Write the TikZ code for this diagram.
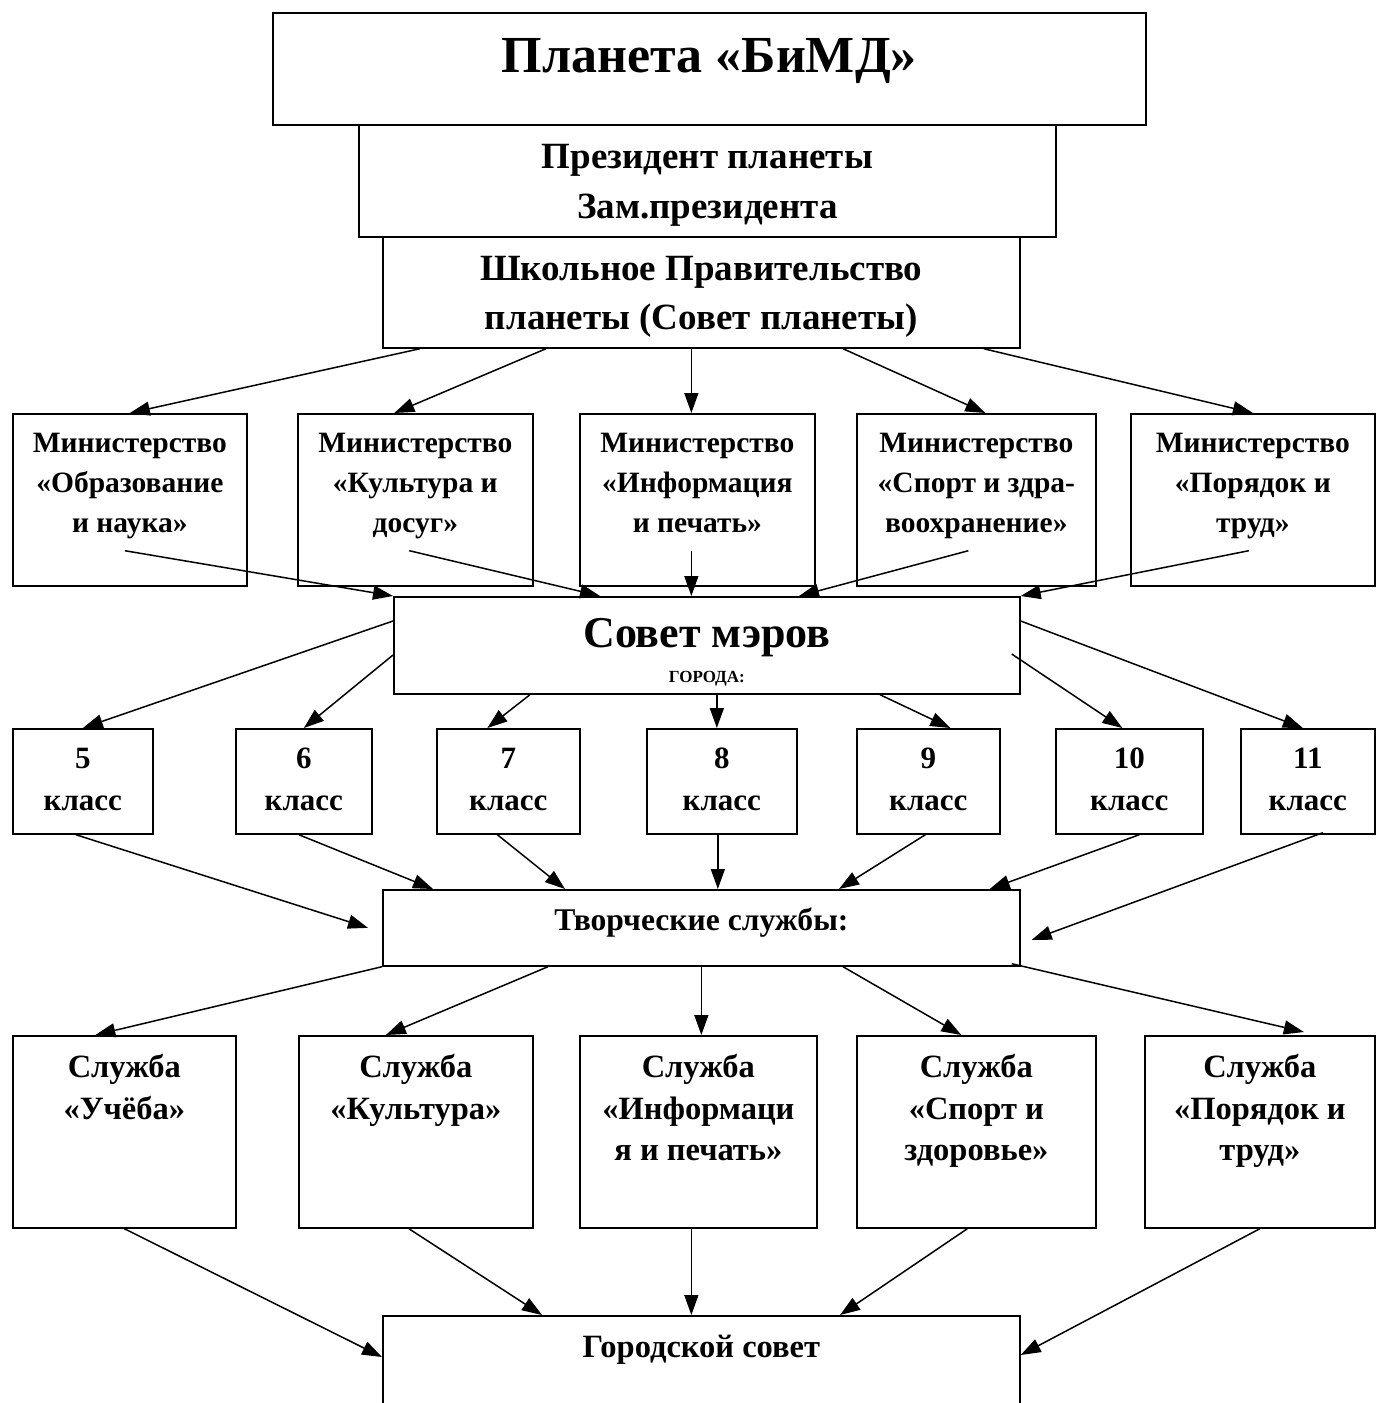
\documentclass[tikz,border=0pt]{standalone}
\usepackage{fontspec}
\setmainfont{Liberation Serif}
\usetikzlibrary{arrows.meta}
\newcommand{\cell}[4]{% width, height, top gap, text
\parbox[c][#2][t]{#1}{\centering\parskip=0pt\vspace*{#3}#4}}
\newcommand{\fs}[2]{\fontsize{#1}{#2}\selectfont\strut}
\tikzstyle{box} =[
    draw,
    line width=1.7pt,
    inner sep=0pt,
    anchor=north west,
    font=\bfseries
    ]
\tikzstyle{arr} =[
    line width=1.5pt,
    -{Triangle[length=20pt,width=14pt]}
    ]

\begin{document}
\begin{tikzpicture}[x=1pt,y=-1pt]
\useasboundingbox (0,0) rectangle (1376,1403);

\node[box] (title) at (272,12) {\cell{873pt}{112pt}{18pt}{\fs{52}{60}Планета «БиМД»}};
\node[box] (pres) at (358,124) {\cell{697pt}{112pt}{9pt}{\fs{37}{50}Президент планеты\\Зам.президента}};
\node[box] (gov) at (382,236) {\cell{637pt}{111pt}{8.5pt}{\fs{37}{49.5}Школьное Правительство\\планеты (Совет планеты)}};

\node[box] (min1) at (12,413) {\cell{234pt}{172pt}{11pt}{\fs{29.5}{40}Министерство\\«Образование\\и наука»}};
\node[box] (min2) at (297,413) {\cell{235pt}{172pt}{11pt}{\fs{29.5}{40}Министерство\\«Культура и\\досуг»}};
\node[box] (min3) at (579,413) {\cell{235pt}{172pt}{11pt}{\fs{29.5}{40}Министерство\\«Информация\\и печать»}};
\node[box] (min4) at (856,413) {\cell{239pt}{172pt}{11pt}{\fs{29.5}{40}Министерство\\«Спорт и здра-\\воохранение»}};
\node[box] (min5) at (1130,413) {\cell{244pt}{172pt}{11pt}{\fs{29.5}{40}Министерство\\«Порядок и\\труд»}};

\node[box] (mayors) at (393,596) {\cell{626pt}{97pt}{16pt}{{\fs{44}{50}Совет мэров\par}{\fontsize{17}{35}\selectfont ГОРОДА:\par}}};

\node[box] (c5) at (12,728) {\cell{140pt}{105pt}{10.6pt}{\fs{31}{42}5\\класс}};
\node[box] (c6) at (235,728) {\cell{136pt}{105pt}{10.6pt}{\fs{31}{42}6\\класс}};
\node[box] (c7) at (436,728) {\cell{143pt}{105pt}{10.6pt}{\fs{31}{42}7\\класс}};
\node[box] (c8) at (646,728) {\cell{150pt}{105pt}{10.6pt}{\fs{31}{42}8\\класс}};
\node[box] (c9) at (856,728) {\cell{143pt}{105pt}{10.6pt}{\fs{31}{42}9\\класс}};
\node[box] (c10) at (1055,728) {\cell{147pt}{105pt}{10.6pt}{\fs{31}{42}10\\класс}};
\node[box] (c11) at (1240,728) {\cell{134pt}{105pt}{10.6pt}{\fs{31}{42}11\\класс}};

\node[box] (creative) at (382,889) {\cell{637pt}{76pt}{11.6pt}{\fs{31.6}{42}Творческие службы:}};

\node[box] (s1) at (12,1035) {\cell{223pt}{192pt}{13pt}{\fs{32.5}{41.5}Служба\\«Учёба»}};
\node[box] (s2) at (298,1035) {\cell{234pt}{192pt}{13pt}{\fs{32.5}{41.5}Служба\\«Культура»}};
\node[box] (s3) at (579,1035) {\cell{237pt}{192pt}{13pt}{\fs{32.5}{41.5}Служба\\«Информаци\\я и печать»}};
\node[box] (s4) at (856,1035) {\cell{239pt}{192pt}{13pt}{\fs{32.5}{41.5}Служба\\«Спорт и\\здоровье»}};
\node[box] (s5) at (1144,1035) {\cell{230pt}{192pt}{13pt}{\fs{32.5}{41.5}Служба\\«Порядок и\\труд»}};

% runs off the page at the bottom
\node[box] (city) at (382,1315) {\cell{637pt}{110pt}{12.6pt}{\fs{32.5}{42}Городской совет}};

% government -> ministries
\draw[arr] ([xshift=38pt]gov.south west) -- (min1.north);
\draw[arr] ([xshift=164pt]gov.south west) -- ([xshift=-21pt]min2.north);
\draw[arr] ([xshift=-6pt]min3.north |- gov.south) -- ([xshift=-6pt]min3.north);
\draw[arr] ([xshift=461pt]gov.south west) -- ([xshift=9pt]min4.north);
\draw[arr] ([xshift=-37pt]gov.south east) -- (min5.north);

% ministries -> mayors
\draw[arr] ([yshift=36pt,xshift=-5pt]min1.south) -- (mayors.north west);
\draw[arr] ([yshift=36pt,xshift=-6pt]min2.south) -- ([xshift=207pt]mayors.north west);
\draw[arr] ([yshift=36pt,xshift=-6pt]min3.south) -- ([xshift=-6pt]min3.south |- mayors.north);
\draw[arr] ([yshift=36pt,xshift=-8pt]min4.south) -- ([xshift=406pt]mayors.north west);
\draw[arr] ([yshift=36pt,xshift=-4pt]min5.south) -- (mayors.north east);

% mayors -> classes
\draw[arr] ([yshift=-25pt]mayors.north west) -- (c5.north);
\draw[arr] ([yshift=-59pt]mayors.north west) -- (c6.north);
\draw[arr] ([xshift=137pt]mayors.south west) -- ([xshift=-21pt]c7.north);
\draw[arr] ([xshift=-5pt]c8.north |- mayors.south) -- ([xshift=-5pt]c8.north);
\draw[arr] ([xshift=487pt]mayors.south west) -- ([xshift=22pt]c9.north);
\draw[arr] ([xshift=-9pt,yshift=-58pt]mayors.north east) -- ([xshift=-7pt]c10.north);
\draw[arr] ([yshift=-25pt]mayors.north east) -- ([xshift=-5pt]c11.north);

% classes -> creative services
\draw[arr] ([xshift=-7pt]c5.south) -- ([xshift=-14pt]creative.west);
\draw[arr] ([xshift=-5pt]c6.south) -- ([xshift=51pt]creative.north west);
\draw[arr] ([xshift=-11pt]c7.south) -- ([xshift=183pt]creative.north west);
\draw[arr] ([xshift=-4pt]c8.south) -- ([xshift=-4pt]c8.south |- creative.north);
\draw[arr] ([xshift=-3pt]c9.south) -- ([xshift=457pt]creative.north west);
\draw[arr] ([xshift=10pt]c10.south) -- ([xshift=-31pt]creative.north east);
\draw[arr] ([xshift=15pt,yshift=2pt]c11.south) -- ([xshift=11pt,yshift=-12pt]creative.east);

% creative services -> services
\draw[arr] (creative.south west) -- ([xshift=-29pt]s1.north);
\draw[arr] ([xshift=166pt]creative.south west) -- ([xshift=-30pt]s2.north);
\draw[arr] (creative.south) -- (creative.south |- s3.north);
\draw[arr] ([xshift=461pt]creative.south west) -- ([xshift=-15pt]s4.north);
\draw[arr] ([xshift=-9pt,yshift=3pt]creative.south east) -- ([xshift=44pt,yshift=3pt]s5.north);

% services -> city council
\draw[arr] (s1.south) -- ([yshift=-42pt]city.north west);
\draw[arr] ([xshift=-7pt]s2.south) -- ([xshift=160pt]city.north west);
\draw[arr] ([xshift=-7pt]s3.south) -- ([xshift=-7pt]s3.south |- city.north);
\draw[arr] ([xshift=-9pt]s4.south) -- ([xshift=458pt]city.north west);
\draw[arr] (s5.south) -- ([yshift=-40pt]city.north east);
\end{tikzpicture}
\end{document}
